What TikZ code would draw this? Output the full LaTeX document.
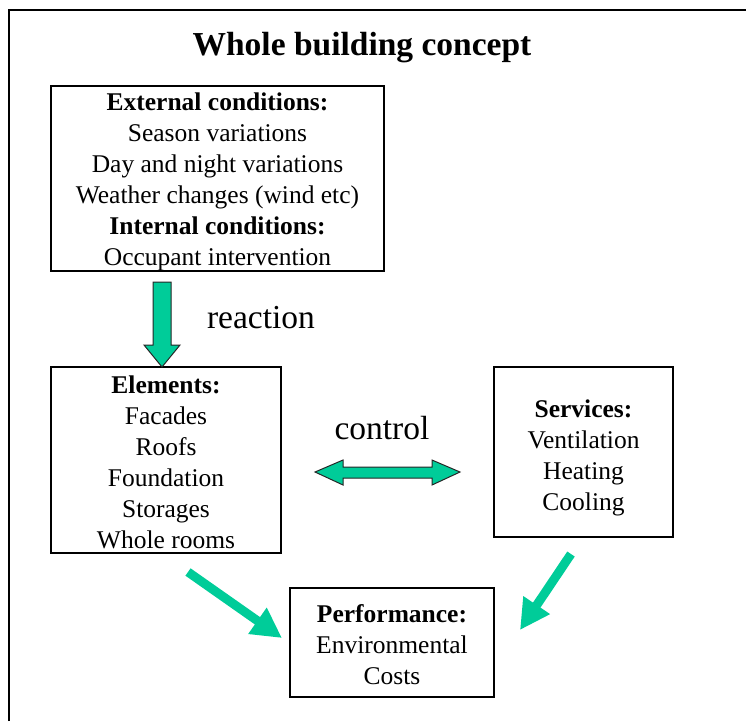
\documentclass[tikz,border=0pt]{standalone}
\usepackage{fontspec}
\setmainfont{Liberation Serif}
\usetikzlibrary{arrows.meta}
\definecolor{flowgreen}{RGB}{0,204,153}
\newcommand{\boxfont}{\fontsize{25.5}{31}\selectfont}
\newcommand{\bigfont}{\fontsize{33.5}{40}\selectfont}
\newcommand{\lift}[1]{\rule{0pt}{#1pt}}

\begin{document}
\begin{tikzpicture}[x=1pt,y=-1pt,
	infobox/.style={draw,line width=1.3pt,align=center,inner sep=0pt,font=\boxfont},
	blockarrow/.style={fill=flowgreen,draw=black!85,line width=1pt,line join=miter},
	diagarrow/.style={draw=flowgreen,line width=9pt,-{Triangle[length=30pt,width=30pt]}}]
	\useasboundingbox (0,0) rectangle (746,721);
	\draw[line width=2pt] (8.5,721) -- (8.5,9.5) -- (746,9.5);
	\node (title) at (362,48) {\bigfont\bfseries Whole building concept};
	% boxes
	\node[infobox,minimum width=333pt,minimum height=185pt] (cond) at (217.5,178.5)
		{\lift{24}\textbf{External conditions:}\\Season variations\\Day and night variations\\Weather changes (wind etc)\\\textbf{Internal conditions:}\\Occupant intervention};
	\node[infobox,minimum width=230pt,minimum height=186pt] (elements) at (166,460)
		{\lift{21.5}\textbf{Elements:}\\Facades\\Roofs\\Foundation\\Storages\\Whole rooms};
	\node[infobox,minimum width=179pt,minimum height=170pt] (services) at (583.5,452)
		{\lift{29}\textbf{Services:}\\Ventilation\\Heating\\Cooling};
	\node[infobox,minimum width=204pt,minimum height=109pt] (perf) at (392,642.5)
		{\lift{21.5}\textbf{Performance:}\\Environmental\\Costs};
	% labels
	\node (reaction) at (261,318) {\bigfont reaction};
	\node (control) at (382,428) {\bigfont control};
	% block arrows
	\draw[blockarrow] (153,282) -- (171,282) -- (171,345) -- (180,345) -- (162,367)
		-- (144,345) -- (153,345) -- cycle;
	\draw[blockarrow] (315,472) -- (343,460) -- (343,467) -- (432,467) -- (432,460)
		-- (460,472) -- (432,485) -- (432,478) -- (343,478) -- (343,485) -- cycle;
	% arrows to performance
	\coordinate (elemOut) at (188,572);
	\coordinate (perfInL) at (282,638);
	\coordinate (servOut) at (571,554);
	\coordinate (perfInR) at (520,630);
	\draw[diagarrow] (elemOut) -- (perfInL);
	\draw[diagarrow] (servOut) -- (perfInR);
\end{tikzpicture}
\end{document}
